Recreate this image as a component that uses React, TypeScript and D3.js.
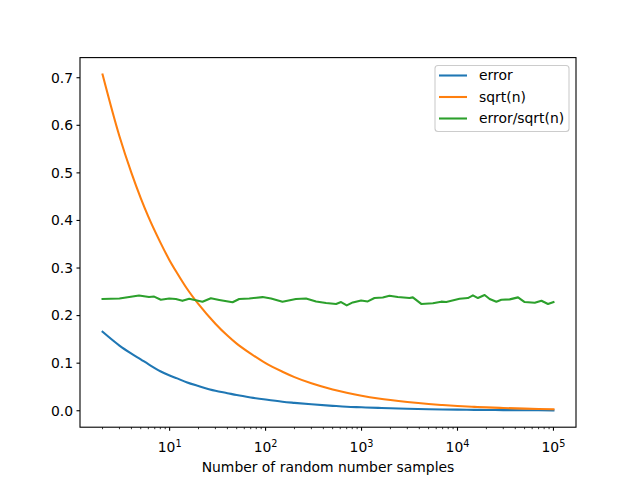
import React, { useEffect } from "react";
import * as d3 from "d3";

// Smooth series
const nSmooth = [2, 3, 4, 5, 6, 8, 10, 12, 15, 20, 30, 40, 50, 70, 100, 150, 200, 300, 500, 700, 1000, 1500, 2000, 3000, 5000, 7000, 10000, 15000, 20000, 30000, 50000, 70000, 100000];
const errorValues = [0.166, 0.137, 0.12, 0.108, 0.098, 0.083, 0.074, 0.068, 0.06, 0.052, 0.042, 0.037, 0.033, 0.028, 0.0235, 0.019, 0.0166, 0.0135, 0.0103, 0.0084, 0.0073, 0.006, 0.0053, 0.0043, 0.0032, 0.0027, 0.0023, 0.0019, 0.0017, 0.00135, 0.00103, 0.00087, 0.00073];
const sqrtValues = [0.707, 0.577, 0.5, 0.447, 0.408, 0.354, 0.316, 0.289, 0.258, 0.224, 0.183, 0.158, 0.141, 0.12, 0.1, 0.082, 0.0707, 0.0577, 0.0447, 0.0378, 0.0316, 0.0258, 0.0224, 0.0183, 0.0141, 0.012, 0.01, 0.0082, 0.0071, 0.0058, 0.0045, 0.0038, 0.0032];

// Noisy ratio series
const nRatio = [2, 3, 4.8, 6.1, 6.9, 8.1, 9.9, 11.6, 13.6, 16, 22, 26.9, 32.9, 45.3, 53.1, 67.6, 93, 114, 150, 207, 264, 336, 427, 543, 612, 701, 810, 990, 1161, 1364, 1665, 1955, 2388, 3162, 3423, 4190, 5537, 6771, 7638, 10510, 12830, 14480, 16320, 19180, 21630, 25410, 28650, 34990, 42740, 50130, 63810, 74980, 87740, 100000];
const ratioValues = [0.2348, 0.236, 0.2424, 0.239, 0.240, 0.2334, 0.236, 0.2348, 0.231, 0.2354, 0.229, 0.2365, 0.233, 0.228, 0.2348, 0.236, 0.2389, 0.236, 0.229, 0.2348, 0.236, 0.2298, 0.2264, 0.2243, 0.2285, 0.2214, 0.2277, 0.2319, 0.2298, 0.2369, 0.2382, 0.2418, 0.239, 0.2369, 0.2383, 0.2245, 0.2259, 0.2293, 0.2286, 0.2355, 0.2369, 0.2426, 0.2369, 0.2432, 0.2348, 0.2291, 0.2333, 0.2341, 0.2383, 0.2285, 0.227, 0.2312, 0.2243, 0.2285];

const yTicks = [0, 0.1, 0.2, 0.3, 0.4, 0.5, 0.6, 0.7];
const xTickExps = [1, 2, 3, 4, 5];
const seriesNames = ["error", "sqrt(n)", "error/sqrt(n)"];
const colors = ["#1f77b4", "#ff7f0e", "#2ca02c"];

const W = 640, H = 480;
const L = 80, R = 576, T = 57.6, B = 427.2;
const FONT = "'DejaVu Sans', sans-serif";

export default function App() {
  useEffect(() => {
    document.body.style.margin = "0";
  }, []);

  const allN = nSmooth.concat(nRatio);
  const lo = Math.log10(d3.min(allN) as number);
  const hi = Math.log10(d3.max(allN) as number);
  const mx = (hi - lo) * 0.05;
  const x = d3.scaleLog().domain([10 ** (lo - mx), 10 ** (hi + mx)]).range([L, R]);

  const allY = errorValues.concat(sqrtValues, ratioValues);
  const ymin = d3.min(allY) as number;
  const ymax = d3.max(allY) as number;
  const my = (ymax - ymin) * 0.05;
  const y = d3.scaleLinear().domain([ymin - my, ymax + my]).range([B, T]);

  const smoothLine = (vals: number[]) =>
    d3.line<number>().x((_, i) => x(nSmooth[i])).y((d) => y(d)).curve(d3.curveMonotoneX)(vals) || "";
  const ratioLine =
    d3.line<number>().x((_, i) => x(nRatio[i])).y((d) => y(d))(ratioValues) || "";

  const paths = [smoothLine(errorValues), smoothLine(sqrtValues), ratioLine];

  // minor ticks
  const [d0, d1] = x.domain();
  const minor: number[] = [];
  for (let e = Math.floor(Math.log10(d0)); e <= Math.ceil(Math.log10(d1)); e++) {
    for (let k = 2; k <= 9; k++) {
      const v = k * 10 ** e;
      if (v >= d0 && v <= d1) minor.push(v);
    }
  }

  const legX = 435, legY = 65.5, legW = 134, legH = 66;

  return (
    <svg width={W} height={H} style={{ display: "block" }} fontFamily={FONT}>
      <rect x={0} y={0} width={W} height={H} fill="#fff" />
      <defs>
        <clipPath id="clip">
          <rect x={L} y={T} width={R - L} height={B - T} />
        </clipPath>
      </defs>
      <g clipPath="url(#clip)">
        {paths.map((p, i) => (
          <path key={i} d={p} fill="none" stroke={colors[i]} strokeWidth={2.08} strokeLinejoin="round" strokeLinecap="square" />
        ))}
      </g>
      {/* y axis ticks */}
      {yTicks.map((t) => (
        <g key={t}>
          <line x1={L - 3.5} x2={L} y1={y(t)} y2={y(t)} stroke="#000" strokeWidth={1.1} />
          <text x={L - 7} y={y(t)} dy="0.35em" textAnchor="end" fontSize={13.9} fill="#000">
            {t.toFixed(1)}
          </text>
        </g>
      ))}
      {/* x minor ticks */}
      {minor.map((v) => (
        <line key={v} x1={x(v)} x2={x(v)} y1={B} y2={B + 2} stroke="#000" strokeWidth={0.8} />
      ))}
      {xTickExps.map((e) => (
        <g key={e}>
          <line x1={x(10 ** e)} x2={x(10 ** e)} y1={B} y2={B + 3.5} stroke="#000" strokeWidth={1.1} />
          <text x={x(10 ** e)} y={452} textAnchor="middle" fontSize={13.9} fill="#000">
            10
            <tspan fontSize={9.7} dy={-5.5}>{e}</tspan>
          </text>
        </g>
      ))}
      <text x={(L + R) / 2} y={471.5} textAnchor="middle" fontSize={13.9} fill="#000">
        Number of random number samples
      </text>
      {/* frame */}
      <rect x={L} y={T} width={R - L} height={B - T} fill="none" stroke="#000" strokeWidth={1.1} />
      {/* legend */}
      <rect x={legX} y={legY} width={legW} height={legH} rx={3} ry={3} fill="#fff" fillOpacity={0.8} stroke="#cccccc" strokeWidth={1.1} />
      {seriesNames.map((s, i) => {
        const ry = 75.5 + i * 21.5;
        return (
          <g key={s}>
            <line x1={439} x2={467} y1={ry} y2={ry} stroke={colors[i]} strokeWidth={2.08} />
            <text x={479} y={ry} dy="0.35em" fontSize={13.9} fill="#000">
              {s}
            </text>
          </g>
        );
      })}
    </svg>
  );
}
